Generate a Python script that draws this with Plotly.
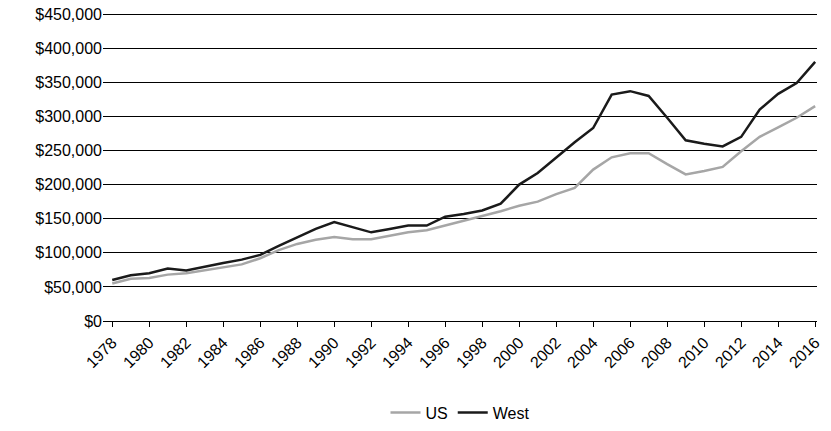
import plotly.graph_objects as go

years = list(range(1978, 2017))
us = [55000, 62000, 63000, 68000, 70000, 74000, 79000, 83000, 92000, 104000,
      113000, 119000, 123000, 120000, 120000, 125000, 130000, 133000, 140000, 146000,
      153000, 161000, 169000, 175000, 186000, 195000, 222000, 240000, 246000, 246000,
      230000, 215000, 220000, 226000, 249000, 270000, 284000, 298000, 315000]
west = [60000, 67000, 70000, 77000, 74000, 80000, 85000, 90000, 97000, 110000,
        123000, 135000, 145000, 138000, 130000, 135000, 140000, 140000, 153000, 157000,
        162000, 172000, 200000, 217000, 240000, 262000, 283000, 332000, 337000, 330000,
        298000, 265000, 260000, 256000, 270000, 310000, 333000, 349000, 380000]

fig = go.Figure()
fig.add_trace(go.Scatter(x=years, y=us, mode='lines', name='US',
                         line=dict(color='#a6a6a6', width=2.5)))
fig.add_trace(go.Scatter(x=years, y=west, mode='lines', name='West',
                         line=dict(color='#1a1a1a', width=2.5)))

fig.update_layout(
    width=831, height=431,
    plot_bgcolor='white', paper_bgcolor='white',
    font=dict(family='Arial, Liberation Sans', size=16, color='black'),
    margin=dict(l=95, r=22, t=2, b=118, autoexpand=False),
    legend=dict(orientation='h', x=0.5, xanchor='center', y=-0.24, yanchor='top',
                font=dict(size=16)),
)
fig.update_xaxes(tickmode='array', tickvals=list(range(1978, 2017, 2)),
                 tickangle=-45, range=[1977.5, 2016.1], showgrid=False,
                 showline=True, linecolor='black', ticks='outside', ticklen=5,
                 tickcolor='black', automargin=False)
fig.update_yaxes(range=[0, 456000], dtick=50000, tickprefix='$', tickformat=',',
                 showgrid=True, gridcolor='black', gridwidth=1, zeroline=True,
                 zerolinecolor='black', automargin=False, ticklabeloverflow='allow')
fig.write_html("out.html")
